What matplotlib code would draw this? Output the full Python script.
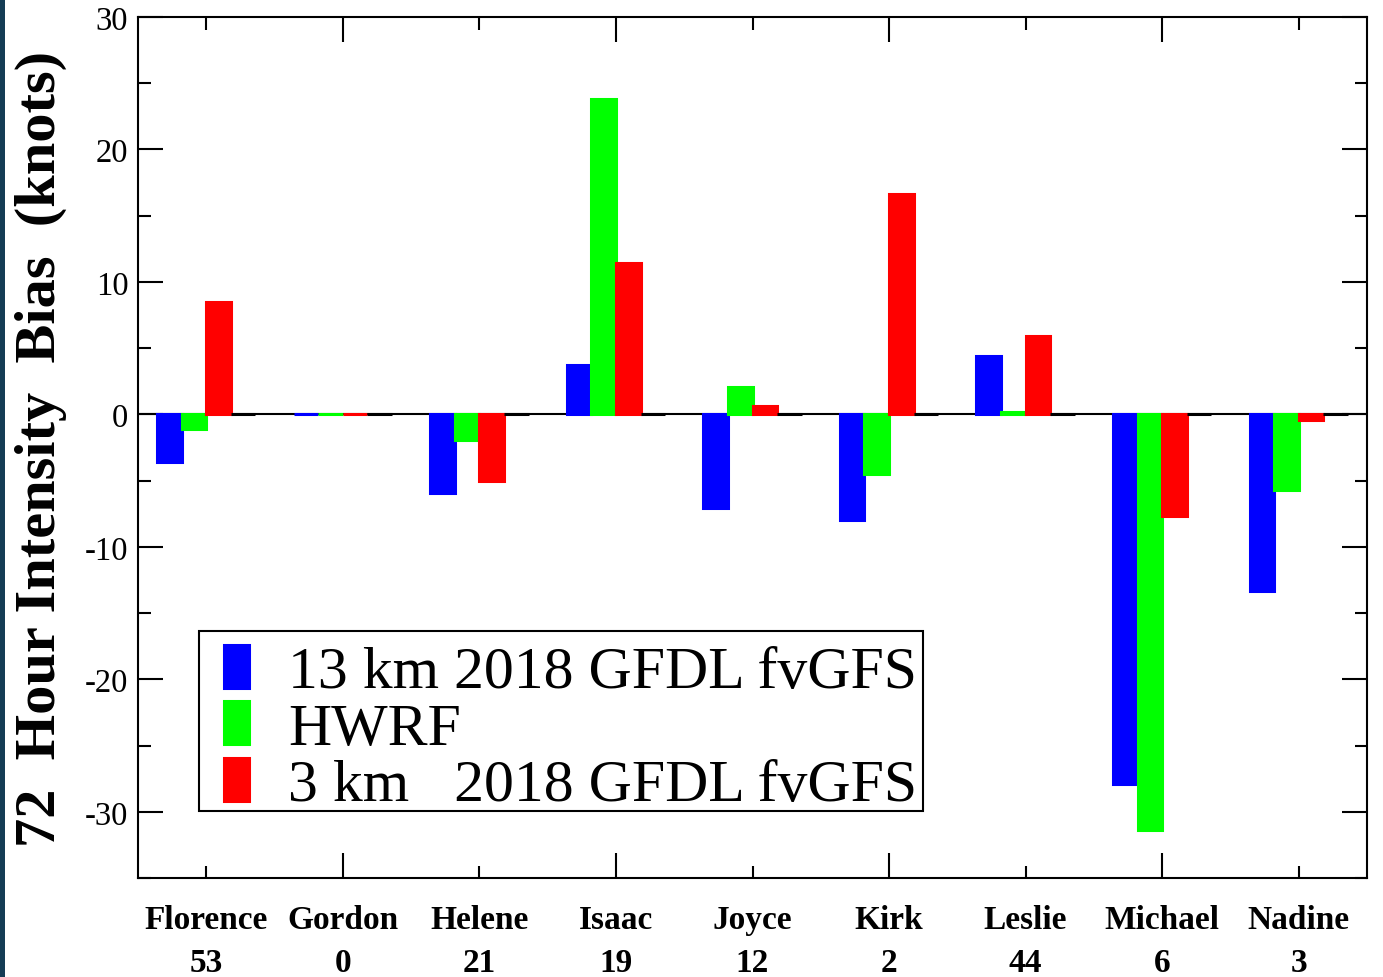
import matplotlib
matplotlib.use("Agg")
import matplotlib.pyplot as plt
import numpy as np
from matplotlib.ticker import MultipleLocator
from matplotlib.patches import Rectangle
from matplotlib.legend_handler import HandlerPatch

storms = ["Florence", "Gordon", "Helene", "Isaac", "Joyce", "Kirk", "Leslie", "Michael", "Nadine"]
counts = ["53", "0", "21", "19", "12", "2", "44", "6", "3"]
fv13 = [-3.6, 0.0, -5.9, 3.7, -7.1, -8.0, 4.4, -27.9, -13.3]
hwrf = [-1.1, 0.0, -1.9, 23.8, 2.1, -4.5, 0.2, -31.4, -5.7]
fv3 = [8.5, 0.0, -5.0, 11.4, 0.6, 16.6, 5.9, -7.7, -0.4]
extra = [0, 0, 0, 0, 0, 0, 0, 0, 0]
series_labels = ["13 km 2018 GFDL fvGFS", "HWRF", "3 km   2018 GFDL fvGFS"]
ylabel = "72  Hour Intensity  Bias  (knots)"

plt.rcParams['axes.unicode_minus'] = False
plt.rcParams['font.family'] = ['Liberation Serif', 'DejaVu Serif']

fig = plt.figure(figsize=(13.83, 9.78), dpi=100)
fig.patches.append(Rectangle((0, 0), 5 / 1383, 1, transform=fig.transFigure,
                             facecolor="#143c55", edgecolor="none", zorder=10))
ax = fig.add_axes([138 / 1383, 1 - 879 / 978, (1367 - 138) / 1383, (879 - 18) / 978])

x = np.arange(1, len(storms) + 1)
w = 0.18
handles = []
for k, (vals, col) in enumerate(zip([fv13, hwrf, fv3, extra], ["#0000ff", "#00ff00", "#ff0000", "#000000"])):
    b = ax.bar(x + (k - 1.5) * w, vals, width=w, color=col, edgecolor=col,
               linewidth=2.2, zorder=3)
    handles.append(b)

ax.axhline(0, color="black", linewidth=1.5, zorder=2)

ax.set_xlim(0.5, 9.5)
ax.set_ylim(-35, 30)
ax.yaxis.set_major_locator(MultipleLocator(10))
ax.yaxis.set_minor_locator(MultipleLocator(5))
ax.set_xticks(x)
ax.set_xticklabels([f"{s}\n{c}" for s, c in zip(storms, counts)],
                   fontweight="bold", fontsize=24, linespacing=1.5)
ax.tick_params(axis="both", which="both", direction="in", top=True, right=True, width=1.5)
ax.tick_params(axis="y", which="major", length=18, labelsize=23.5, pad=7)
ax.tick_params(axis="y", which="minor", length=9)
ax.tick_params(axis="x", which="major", length=18, pad=19)
for i, t in enumerate(ax.xaxis.get_major_ticks()):
    if i % 2 == 0:
        t.tick1line.set_markersize(9)
        t.tick2line.set_markersize(9)

for s in ax.spines.values():
    s.set_linewidth(1.5)

ax.set_ylabel(ylabel, fontsize=42, fontweight="bold")
ax.yaxis.set_label_coords(-0.058, 0.5)

SHIFT_PT = 5.5


def narrow_patch(legend, orig_handle, xdescent, ydescent, width, height, fontsize):
    return Rectangle((-xdescent + 0.325 * width, -ydescent - SHIFT_PT), 0.42 * width, height)


leg = ax.legend([h.patches[0] for h in handles[:3]], series_labels, loc="lower left",
                bbox_to_anchor=(0.0496, 0.0778), borderaxespad=0,
                fontsize=43, frameon=True, fancybox=False, framealpha=1,
                handlelength=1.0, handleheight=0.73, handletextpad=0.4,
                labelspacing=0.02, borderpad=0.094,
                handler_map={Rectangle: HandlerPatch(patch_func=narrow_patch)})
leg.get_frame().set_edgecolor("black")
leg.get_frame().set_linewidth(1.5)
for t in leg.get_texts():
    t.set_position((0, -SHIFT_PT * 100 / 72))

fig.savefig("out.png", dpi=100)
